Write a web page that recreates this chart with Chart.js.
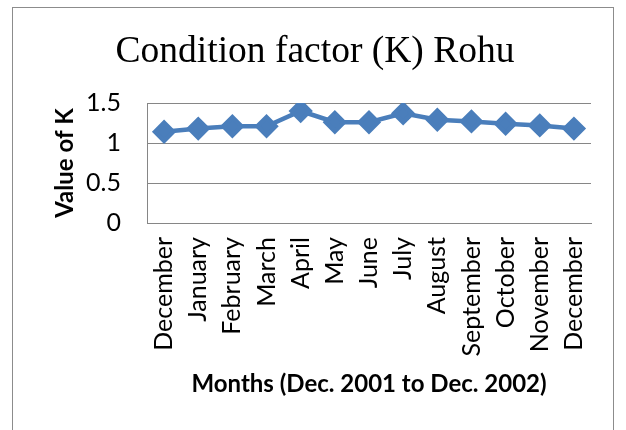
<!DOCTYPE html>
<html>
<head>
<meta charset="utf-8">
<script src="https://cdn.jsdelivr.net/npm/chart.js@4"></script>
<style>
  body { margin: 0; background: #fff; }
  #wrap {
    position: absolute; left: 12px; top: 7px;
    width: 600px; height: 430px;
    border: 1px solid #8c8c8c;
  }
  canvas { display: block; }
</style>
</head>
<body>
<div id="wrap"><canvas id="myChart" width="600" height="423"></canvas></div>
<script>
const months = ["December", "January", "February", "March", "April", "May", "June",
  "July", "August", "September", "October", "November", "December"];
const kValues = [1.14, 1.18, 1.21, 1.21, 1.40, 1.26, 1.26, 1.37, 1.29, 1.27, 1.24, 1.22, 1.18];
const yTicks = [0, 0.5, 1, 1.5];

const tickFont = { family: "Lato", size: 25 };
const titleFont = { family: "Lato", size: 24, weight: "bold" };

const data = {
  labels: months,
  datasets: [
    {
      label: "K",
      data: kValues,
      borderColor: "#4A7EBB",
      backgroundColor: "#4A7EBB",
      borderWidth: 4.5,
      pointStyle: "rectRot",
      pointRadius: 9,
      pointHoverRadius: 9,
      tension: 0,
    },
  ],
};

const config = {
  type: "line",
  data: data,
  options: {
    responsive: false,
    animation: false,
    layout: { padding: { left: 26, right: 22, top: 0, bottom: 0 } },
    plugins: {
      legend: { display: false },
      tooltip: { enabled: false },
      title: {
        display: true,
        text: "Condition factor (K) Rohu",
        color: "#000",
        font: { family: "Liberation Serif", size: 37.5, weight: "normal", lineHeight: 1.2 },
        padding: { top: 22, bottom: 28 },
      },
    },
    scales: {
      x: {
        offset: true,
        grid: { display: false, drawTicks: false },
        border: { display: true, color: "#868686", width: 1 },
        ticks: { color: "#000", font: tickFont, minRotation: 90, maxRotation: 90, padding: 14, autoSkip: false },
        title: {
          display: true,
          text: "Months (Dec. 2001 to Dec. 2002)",
          color: "#000",
          font: titleFont,
          padding: { top: 0, bottom: 32 },
        },
        afterFit: (scale) => {
          scale.height = 208;
          scale.paddingLeft = 0;
          scale.paddingRight = 0;
        },
      },
      y: {
        min: 0,
        max: 1.5,
        afterBuildTicks: (scale) => { scale.ticks = yTicks.map((v) => ({ value: v })); },
        grid: { color: "#868686", drawTicks: false },
        border: { display: true, color: "#868686", width: 1 },
        ticks: { color: "#000", font: tickFont, padding: 26, callback: (v) => String(v) },
        title: {
          display: true,
          text: "Value of K",
          color: "#000",
          font: titleFont,
          padding: { top: 12, bottom: 0 },
        },
        afterFit: (scale) => { scale.width = 108; },
      },
    },
  },
};

new Chart(document.getElementById("myChart"), config);
</script>
</body>
</html>
